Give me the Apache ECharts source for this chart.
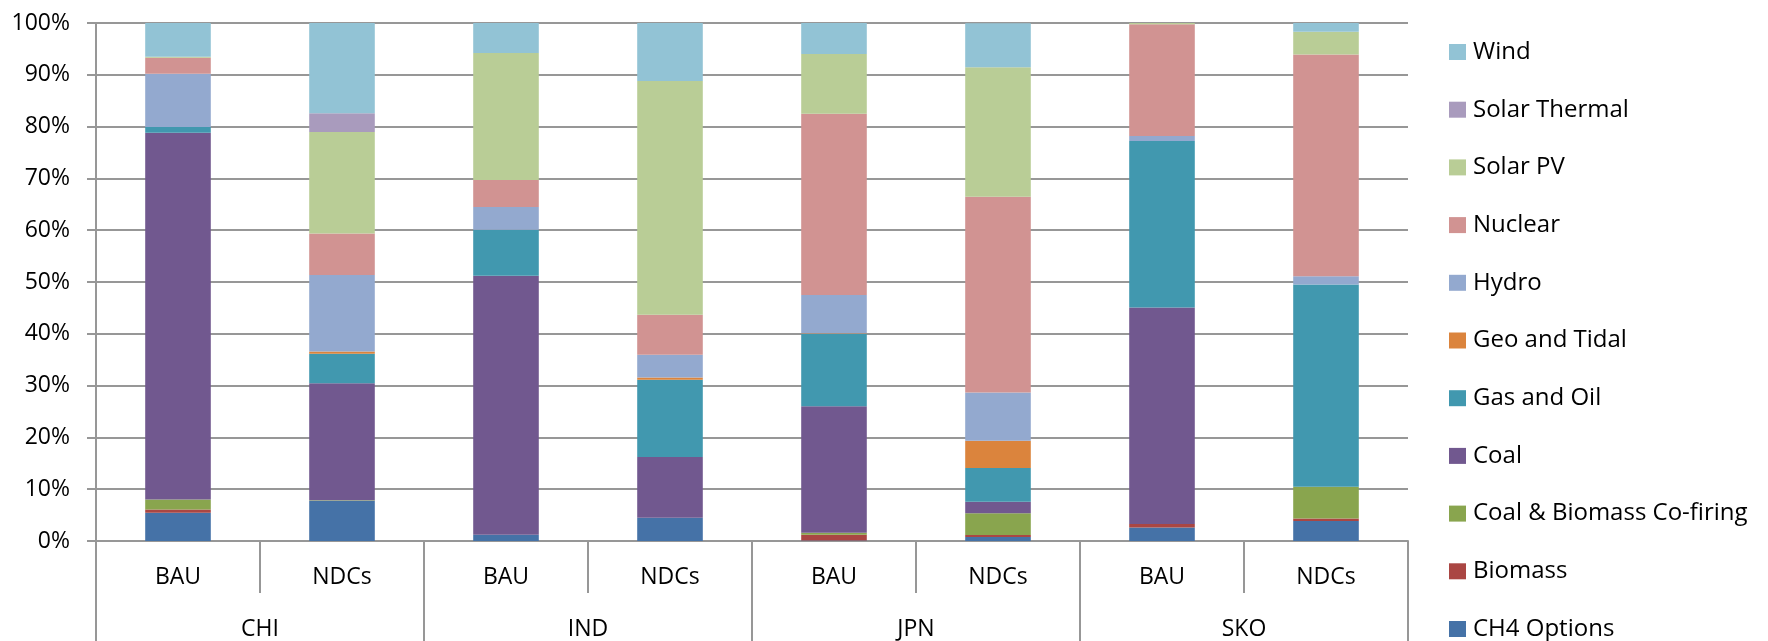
<!DOCTYPE html>
<html>
<head>
<meta charset="utf-8">
<script src="https://cdn.jsdelivr.net/npm/echarts@6/dist/echarts.min.js"></script>
<style>
  html, body { margin: 0; padding: 0; background: #fff; }
  #chart { width: 1768px; height: 641px; }
</style>
</head>
<body>
<div id="chart"></div>
<script>
// Scenario columns, grouped by country
const scenarios = ['BAU', 'NDCs', 'BAU', 'NDCs', 'BAU', 'NDCs', 'BAU', 'NDCs'];
const countries = ['CHI', 'IND', 'JPN', 'SKO'];
const yTicks = [0, 10, 20, 30, 40, 50, 60, 70, 80, 90, 100];

// Share of generation (%) per technology, one value per scenario column
const ch4Options    = [5.45, 7.76, 1.2, 4.5, 0.1, 0.77, 2.6, 3.85];
const biomass       = [0.65, 0, 0, 0, 1.1, 0.4, 0.7, 0.5];
const coFiring      = [1.9, 0.1, 0, 0, 0.4, 4.2, 0, 6.1];
const coal          = [70.8, 22.6, 50.0, 11.7, 24.4, 2.2, 41.8, 0];
const gasOil        = [1.1, 5.7, 8.9, 14.95, 14.0, 6.5, 32.1, 39.05];
const geoTidal      = [0, 0.4, 0, 0.4, 0.1, 5.3, 0, 0];
const hydro         = [10.3, 14.8, 4.4, 4.4, 7.4, 9.3, 1.0, 1.6];
const nuclear       = [3.1, 8.0, 5.2, 7.75, 35.0, 37.8, 21.55, 42.8];
const solarPV       = [0.2, 19.6, 24.5, 45.1, 11.5, 25.0, 0.25, 4.4];
const solarThermal  = [0, 3.6, 0, 0, 0, 0, 0, 0];
const wind          = [6.5, 17.5, 5.8, 11.25, 6.0, 8.5, 0, 1.7];

const seriesNames = ['CH4 Options', 'Biomass', 'Coal & Biomass Co-firing', 'Coal',
  'Gas and Oil', 'Geo and Tidal', 'Hydro', 'Nuclear', 'Solar PV', 'Solar Thermal', 'Wind'];
const seriesValues = [ch4Options, biomass, coFiring, coal, gasOil, geoTidal,
  hydro, nuclear, solarPV, solarThermal, wind];
const seriesColors = ['#4572A7', '#AA4643', '#89A54E', '#71588F', '#4198AF', '#DB843D',
  '#93A9CF', '#D19392', '#B9CD96', '#A99BBD', '#92C3D5'];

const FONT = 'Open Sans';
const AXIS_GRAY = '#979797';

const chart = echarts.init(document.getElementById('chart'), null, { renderer: 'canvas' });

chart.setOption({
  animation: false,
  backgroundColor: '#fff',
  textStyle: { fontFamily: FONT },
  grid: { left: 96, right: 360, top: 23, bottom: 99, containLabel: false },
  legend: {
    orient: 'vertical',
    left: 1449,
    top: 40,
    height: 660,
    padding: 0,
    icon: 'rect',
    itemWidth: 17,
    itemHeight: 16,
    itemGap: 33.7,
    selectedMode: false,
    data: seriesNames.slice().reverse(),
    textStyle: { fontFamily: FONT, fontSize: 24, color: '#000', padding: [0, 0, 0, 2] }
  },
  xAxis: [
    {
      type: 'category',
      data: scenarios,
      position: 'bottom',
      axisLine: { show: true, lineStyle: { color: AXIS_GRAY, width: 2 } },
      axisTick: { show: true, interval: 0, length: 52, lineStyle: { color: AXIS_GRAY, width: 2 } },
      axisLabel: { interval: 0, margin: 25, fontFamily: FONT, fontSize: 23, color: '#000' }
    },
    {
      type: 'category',
      data: countries,
      position: 'bottom',
      axisLine: { show: false },
      axisTick: { show: true, interval: 0, length: 100, lineStyle: { color: AXIS_GRAY, width: 2 } },
      axisLabel: { interval: 0, margin: 77, fontFamily: FONT, fontSize: 23, color: '#000' }
    }
  ],
  yAxis: {
    type: 'value',
    min: yTicks[0],
    max: yTicks[yTicks.length - 1],
    interval: 10,
    axisLine: { show: true, lineStyle: { color: AXIS_GRAY, width: 2 } },
    axisTick: { show: true, length: 9, lineStyle: { color: AXIS_GRAY, width: 2 } },
    splitLine: { show: true, lineStyle: { color: AXIS_GRAY, width: 2 } },
    axisLabel: { margin: 26, fontFamily: FONT, fontSize: 23, color: '#000', formatter: '{value}%' }
  },
  series: seriesNames.map((name, i) => ({
    name: name,
    type: 'bar',
    stack: 'share',
    xAxisIndex: 0,
    barWidth: '40%',
    itemStyle: { color: seriesColors[i] },
    emphasis: { disabled: true },
    data: seriesValues[i]
  }))
});
</script>
</body>
</html>
